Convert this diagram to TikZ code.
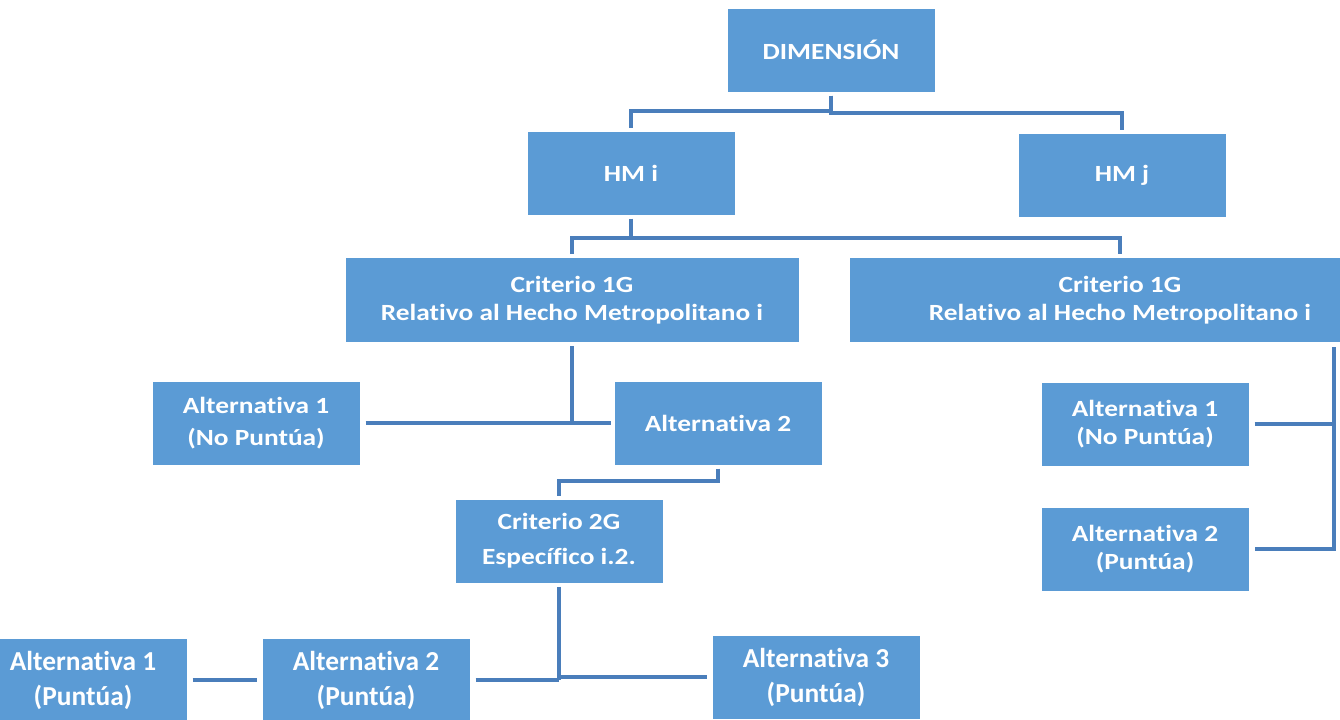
\documentclass[tikz,border=0pt]{standalone}
\usepackage{fontspec}
\newfontfamily\cajafont[FakeStretch=1.18, Ligatures=NoCommon]{Carlito}
\newfontfamily\bajafont[Ligatures=NoCommon]{Carlito}
\definecolor{azulcaja}{HTML}{5B9BD5}
\definecolor{azullinea}{HTML}{4A7EBB}

\begin{document}
\begin{tikzpicture}
        [x=0.5pt, y=-0.5pt,
         caja/.style={rectangle, fill=azulcaja, text=white, align=center, inner sep=0pt, outer sep=0pt,
                      minimum width=103.5pt, minimum height=41.5pt,
                      font=\cajafont\bfseries\fontsize{11.6}{14}\selectfont},
         cajabaja/.style={caja, font=\bajafont\bfseries\fontsize{13.7}{17.5}\selectfont},
         conector/.style={draw=azullinea, line width=2pt}]

        \useasboundingbox (0,0) rectangle (1340,719);
        \clip (0,0) rectangle (1340,719);

        \node[caja] (dim) at (831,50) {DIMENSIÓN};
        \node[caja] (hm-i) at (631,173) {HM i};
        \node[caja] (hm-j) at (1122,175) {HM j};

        \node[caja, minimum width=226.5pt, minimum height=42pt] (crit-i) at (572,300) {Criterio 1G\\Relativo al Hecho Metropolitano i};
        \node[caja, minimum width=270pt, minimum height=42pt] (crit-j) at (1120,300) {Criterio 1G\\Relativo al Hecho Metropolitano i};

        \node[caja] (alt-i1) at (256,423) {Alternativa 1\\[2pt](No Puntúa)};
        \node[caja] (alt-i2) at (718,423) {Alternativa 2};
        \node[caja] (alt-j1) at (1145,424) {Alternativa 1\\(No Puntúa)};
        \node[caja] (alt-j2) at (1145,549) {Alternativa 2\\(Puntúa)};

        \node[caja] (crit-2g) at (559,541) {Criterio 2G\\[3.5pt]Específico i.2.};

        \foreach \i/\x/\y in {1/83/680, 2/366/680, 3/816/677}
        \node[cajabaja] (alt2g-\i) at (\x,\y) {Alternativa \i\\(Puntúa)};

        \draw[conector] ([yshift=-2pt]dim.south) -- ++(0,15) -| ([yshift=2pt]hm-i.north);
        \draw[conector] ([yshift=-2pt]dim.south) -- ++(0,17) -| ([yshift=2pt]hm-j.north);

        \draw[conector] ([yshift=-2pt]hm-i.south) -- ++(0,19) coordinate (rama) -| ([yshift=2pt]crit-i.north);
        \draw[conector] (rama) -| ([yshift=2pt]crit-j.north);

        \draw[conector] ([yshift=-2pt]crit-i.south) -- (crit-i.south |- alt-i1.east);
        \draw[conector, shorten <=3pt, shorten >=2pt] (alt-i1.east) -- (alt-i2.west);
        \draw[conector] ([yshift=-2pt]alt-i2.south) -- ++(0,12) -| ([yshift=2pt]crit-2g.north);

        \coordinate (espina) at (1334,347);
        \draw[conector] (espina) |- ([xshift=3pt]alt-j2.east);
        \draw[conector] ([xshift=3pt]alt-j1.east) -- (espina |- alt-j1.east);

        \draw[conector] ([yshift=-2pt]crit-2g.south) -- (crit-2g.south |- alt2g-2.east);
        \draw[conector] ([xshift=3pt]alt2g-2.east) -- (crit-2g.south |- alt2g-2.east);
        \draw[conector] (crit-2g.south |- alt2g-3.west) -- ([xshift=-3pt]alt2g-3.west);
        \draw[conector, shorten <=3pt, shorten >=3pt] (alt2g-1.east) -- (alt2g-2.west);

    \end{tikzpicture}
\end{document}
